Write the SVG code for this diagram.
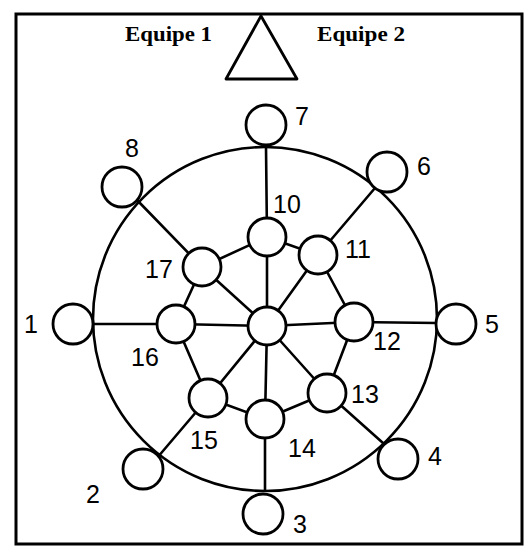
<svg xmlns="http://www.w3.org/2000/svg" width="530" height="549" viewBox="0 0 530 549">
<style>
.ln{stroke:#000;stroke-width:2.6;fill:none;stroke-linecap:round}
.nd{fill:#fff;stroke:#000;stroke-width:2.8}
.lb{font-family:"Liberation Sans",Arial,sans-serif;font-size:25px;fill:#000}
.tt{font-family:"Liberation Serif","Times New Roman",serif;font-size:22px;font-weight:bold;fill:#000}
</style>
<rect x="0" y="0" width="530" height="549" fill="#fff"/>
<rect x="16" y="14" width="506" height="530" fill="none" stroke="#000" stroke-width="3"/>
<g id="header">
<text class="tt" x="125" y="41" textLength="87" lengthAdjust="spacingAndGlyphs">Equipe 1</text>
<text class="tt" x="317" y="41" textLength="88" lengthAdjust="spacingAndGlyphs">Equipe 2</text>
<polygon points="261,16 226,79 297,79" fill="#fff" stroke="#000" stroke-width="2.8" stroke-linejoin="round"/>
</g>
<g id="connectors">
<circle class="ln" cx="265" cy="319" r="172"/>
<line class="ln" x1="92" y1="324" x2="176" y2="324"/>
<line class="ln" x1="176" y1="324" x2="267" y2="326"/>
<line class="ln" x1="267" y1="326" x2="354" y2="322"/>
<line class="ln" x1="354" y1="322" x2="437" y2="323"/>
<line class="ln" x1="266" y1="147" x2="267" y2="237"/>
<line class="ln" x1="267" y1="237" x2="267" y2="326"/>
<line class="ln" x1="267" y1="326" x2="265" y2="419"/>
<line class="ln" x1="265" y1="419" x2="265" y2="490"/>
<line class="ln" x1="137" y1="200" x2="202" y2="267"/>
<line class="ln" x1="202" y1="267" x2="267" y2="326"/>
<line class="ln" x1="267" y1="326" x2="327" y2="393"/>
<line class="ln" x1="327" y1="393" x2="383" y2="443"/>
<line class="ln" x1="375" y1="188" x2="318" y2="255"/>
<line class="ln" x1="318" y1="255" x2="267" y2="326"/>
<line class="ln" x1="267" y1="326" x2="208" y2="398"/>
<line class="ln" x1="208" y1="398" x2="157" y2="458"/>
<polyline class="ln" points="267,237 318,255 354,322 327,393 265,419 208,398 176,324 202,267 267,237"/>
</g>
<g id="n7"><circle class="nd" cx="266" cy="125" r="20"/><text class="lb" x="295" y="125">7</text></g>
<g id="n8"><circle class="nd" cx="122" cy="187" r="20"/><text class="lb" x="125" y="157">8</text></g>
<g id="n6"><circle class="nd" cx="387" cy="172" r="20"/><text class="lb" x="417" y="175">6</text></g>
<g id="n1"><circle class="nd" cx="73" cy="324" r="20"/><text class="lb" x="24" y="333">1</text></g>
<g id="n5"><circle class="nd" cx="456" cy="324" r="20"/><text class="lb" x="485" y="333">5</text></g>
<g id="n2"><circle class="nd" cx="143" cy="469" r="20"/><text class="lb" x="86" y="503">2</text></g>
<g id="n4"><circle class="nd" cx="398" cy="459" r="20"/><text class="lb" x="428" y="465">4</text></g>
<g id="n3"><circle class="nd" cx="263" cy="514" r="20"/><text class="lb" x="293" y="533">3</text></g>
<g id="n10"><circle class="nd" cx="267" cy="237" r="19"/><text class="lb" x="273" y="213">10</text></g>
<g id="n11"><circle class="nd" cx="318" cy="255" r="19"/><text class="lb" x="345" y="258">11</text></g>
<g id="n12"><circle class="nd" cx="354" cy="322" r="19"/><text class="lb" x="373" y="350">12</text></g>
<g id="n13"><circle class="nd" cx="327" cy="393" r="19"/><text class="lb" x="351" y="403">13</text></g>
<g id="n14"><circle class="nd" cx="265" cy="419" r="19"/><text class="lb" x="288" y="457">14</text></g>
<g id="n15"><circle class="nd" cx="208" cy="398" r="19"/><text class="lb" x="190" y="449">15</text></g>
<g id="n16"><circle class="nd" cx="176" cy="324" r="19"/><text class="lb" x="131" y="366">16</text></g>
<g id="n17"><circle class="nd" cx="202" cy="267" r="19"/><text class="lb" x="145" y="278">17</text></g>
<g id="nc"><circle class="nd" cx="267" cy="326" r="19"/></g>
</svg>
